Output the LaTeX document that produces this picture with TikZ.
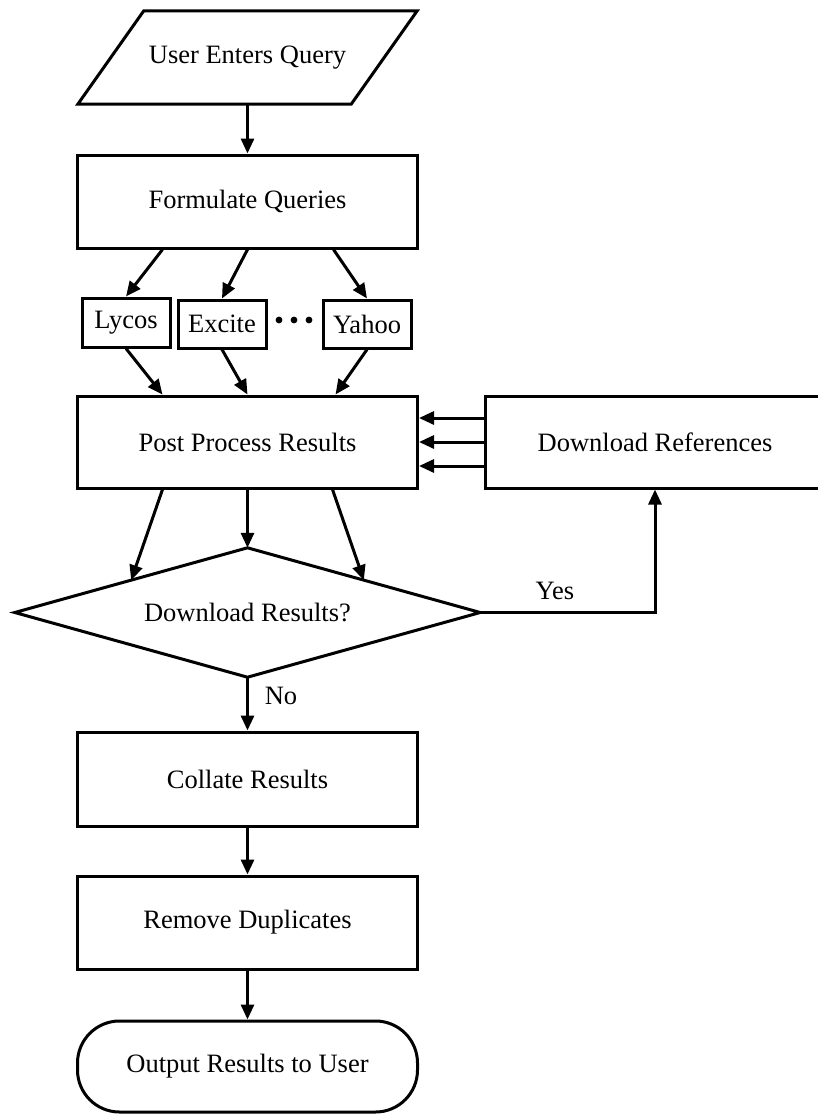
\documentclass[tikz,border=0pt]{standalone}
\usepackage{fontspec}
\setmainfont{Liberation Serif}
\usetikzlibrary{arrows.meta,calc}
\begin{document}
\begin{tikzpicture}[x=1pt,y=-1pt,
  every node/.style={font=\fontsize{26.5}{30}\selectfont},
  box/.style={draw, line width=3pt, rectangle, inner sep=0pt, minimum width=340pt, minimum height=93pt},
  small/.style={draw, line width=3pt, rectangle, inner sep=0pt, minimum width=88pt, minimum height=48pt},
  arr/.style={line width=3pt, -{Triangle[length=15pt,width=13pt]}},
  lbl/.style={inner sep=0pt}
]
\useasboundingbox (0,0) rectangle (817,1114);
\fill[white] (0,0) rectangle (817,1114);

% input parallelogram
\node[inner sep=0pt, minimum width=339pt, minimum height=93pt] (q) at (247.5,57.5) {User Enters Query};
\draw[line width=3pt, line join=miter] (q.south west) -- ([xshift=66pt]q.north west) -- (q.north east) -- ([xshift=-66pt]q.south east) -- cycle;

\node[box] (f) at (247.5,201.5) {Formulate Queries};

\node[small, minimum height=49pt] (ly) at (126,322.5) {Lycos};
\node[small] (ex) at (222,324) {Excite};
\node[small] (ya) at (367,324) {Yahoo};
\foreach \x in {279,294,309} \fill (\x,320) circle (3.4pt);

\node[box, minimum height=92pt] (pp) at (247.5,442) {Post Process Results};
\node[box, minimum height=92pt] (dr) at (655,442) {Download References};

% decision diamond
\node[inner sep=0pt, minimum width=465pt, minimum height=129pt] (d) at (247.5,612.5) {Download Results?};
\draw[line width=3pt, line join=miter] (d.west) -- (d.north) -- (d.east) -- (d.south) -- cycle;

\node[box, minimum height=94pt] (co) at (247.5,779) {Collate Results};
\node[box] (rd) at (247.5,922.5) {Remove Duplicates};
\node[box, minimum height=91pt, rounded corners=42pt] (out) at (247.5,1066.5) {Output Results to User};

% connectors
\draw[arr] (q.south) -- (f.north);
\draw[arr] ([xshift=-85pt]f.south) -- (ly.north);
\draw[arr] (f.south) -- (ex.north);
\draw[arr] ([xshift=86pt]f.south) -- (ya.north);
\draw[arr] (ly.south) -- ([xshift=-85pt]pp.north);
\draw[arr] (ex.south) -- (pp.north);
\draw[arr] (ya.south) -- ([xshift=88pt]pp.north);
\foreach \s in {24,0,-24}
  \draw[arr] ([yshift=\s pt]dr.west) -- ([yshift=\s pt]pp.east);
\draw[arr] ([xshift=-85pt]pp.south) -- ($(d.west)!0.5!(d.north)$);
\draw[arr] (pp.south) -- (d.north);
\draw[arr] ([xshift=85pt]pp.south) -- ($(d.east)!0.5!(d.north)$);
\draw[arr] (d.east) -| (dr.south);
\node[lbl] (yes) at (555,591) {Yes};
\draw[arr] (d.south) -- (co.north);
\node[lbl] (no) at (281,696) {No};
\draw[arr] (co.south) -- (rd.north);
\draw[arr] (rd.south) -- (out.north);
\end{tikzpicture}
\end{document}
